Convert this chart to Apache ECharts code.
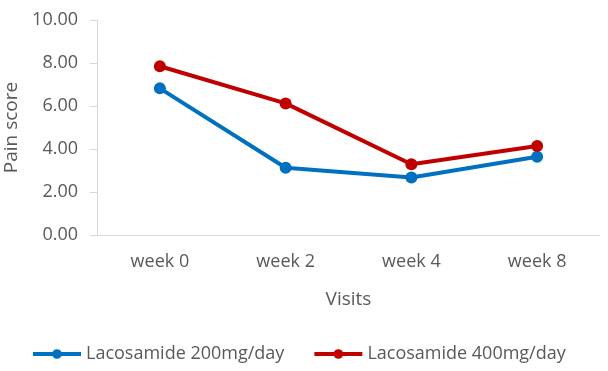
<!DOCTYPE html>
<html>
<head>
<meta charset="utf-8">
<script src="https://cdn.jsdelivr.net/npm/echarts@6/dist/echarts.min.js"></script>
<style>
	html, body { margin: 0; padding: 0; background: #fff; }
	#chart { width: 608px; height: 371px; }
</style>
</head>
<body>
<div id="chart"></div>
<script>
const visits = ["week 0", "week 2", "week 4", "week 8"]
const dose200 = [6.82, 3.13, 2.67, 3.64]
const dose400 = [7.85, 6.12, 3.29, 4.14]
const seriesNames = ["Lacosamide 200mg/day", "Lacosamide 400mg/day"]

const fontFamily = "Open Sans"
const textColor = "#595959"

let chart = echarts.init(document.getElementById("chart"))
let option = {
	animation: false,
	textStyle: { fontFamily: fontFamily },
	grid: {
		left: 97,
		right: 8,
		top: 20,
		bottom: 136,
		outerBoundsMode: "none",
	},
	legend: {
		bottom: 3,
		left: 26,
		itemWidth: 48,
		itemHeight: 12,
		itemGap: 28,
		lineStyle: { width: 4 },
		textStyle: { color: textColor, fontSize: 18, fontFamily: fontFamily },
		data: seriesNames,
	},
	xAxis: {
		type: "category",
		data: visits,
		name: "Visits",
		nameLocation: "middle",
		nameGap: 55,
		nameTextStyle: { color: textColor, fontSize: 19, fontFamily: fontFamily },
		axisLine: { lineStyle: { color: "#d9d9d9", width: 1 } },
		axisTick: { show: false },
		axisLabel: { color: textColor, fontSize: 18, margin: 18, fontFamily: fontFamily },
	},
	yAxis: {
		type: "value",
		min: 0,
		max: 10,
		interval: 2,
		name: "Pain score",
		nameLocation: "middle",
		nameGap: 75,
		nameTextStyle: { color: textColor, fontSize: 19, fontFamily: fontFamily },
		axisLine: { show: true, lineStyle: { color: "#d9d9d9", width: 1 } },
		axisTick: { show: true, length: 7, lineStyle: { color: "#d9d9d9" } },
		splitLine: { show: false },
		axisLabel: {
			color: textColor,
			fontSize: 18,
			margin: 19,
			fontFamily: fontFamily,
			formatter: (v) => v.toFixed(2),
		},
	},
	series: [
		{
			name: seriesNames[0],
			type: "line",
			data: dose200,
			symbol: "circle",
			symbolSize: 12,
			lineStyle: { width: 4, color: "#0070C0" },
			itemStyle: { color: "#0070C0" },
		},
		{
			name: seriesNames[1],
			type: "line",
			data: dose400,
			symbol: "circle",
			symbolSize: 12,
			lineStyle: { width: 4, color: "#C00000" },
			itemStyle: { color: "#C00000" },
		},
	],
}
chart.setOption(option)
</script>
</body>
</html>
